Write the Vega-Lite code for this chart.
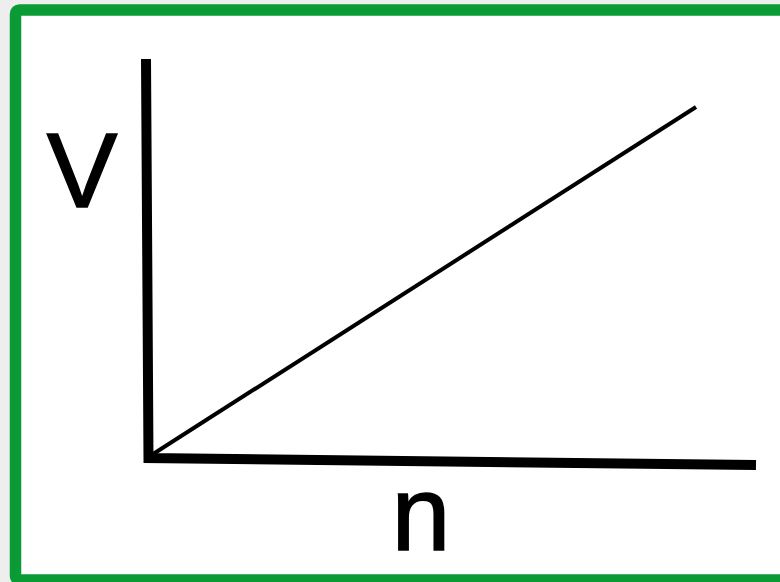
{
  "$schema": "https://vega.github.io/schema/vega-lite/v6.json",
  "width": 780,
  "height": 582,
  "autosize": {"type": "none"},
  "padding": 0,
  "background": "#eeeeee",
  "config": {"view": {"stroke": null}},
  "datasets": {
    "frame": [{"x": 15.5, "x2": 800, "y": 10, "y2": 580}],
    "axes": [
      {"x": 146, "y": 59, "o": 1},
      {"x": 148.5, "y": 458, "o": 2},
      {"x": 756, "y": 465, "o": 3}
    ],
    "curve": [
      {"x": 150, "y": 456, "o": 1},
      {"x": 696, "y": 107, "o": 2}
    ],
    "labels": [
      {"x": 82, "y": 207, "t": "V"},
      {"x": 421, "y": 550, "t": "n"}
    ]
  },
  "layer": [
    {
      "data": {"name": "frame"},
      "mark": {"type": "rect", "fill": "#ffffff", "stroke": "#0b9b35", "strokeWidth": 11.5, "cornerRadius": 4},
      "encoding": {
        "x": {"field": "x", "type": "quantitative", "scale": {"domain": [0, 780]}, "axis": null},
        "x2": {"field": "x2"},
        "y": {"field": "y", "type": "quantitative", "scale": {"domain": [0, 582], "reverse": true}, "axis": null},
        "y2": {"field": "y2"}
      }
    },
    {
      "data": {"name": "axes"},
      "mark": {"type": "line", "color": "#000000", "strokeWidth": 10, "strokeCap": "butt", "strokeJoin": "miter"},
      "encoding": {
        "x": {"field": "x", "type": "quantitative", "scale": {"domain": [0, 780]}, "axis": null},
        "y": {"field": "y", "type": "quantitative", "scale": {"domain": [0, 582], "reverse": true}, "axis": null},
        "order": {"field": "o"}
      }
    },
    {
      "data": {"name": "curve"},
      "mark": {"type": "line", "color": "#000000", "strokeWidth": 4, "strokeCap": "butt"},
      "encoding": {
        "x": {"field": "x", "type": "quantitative", "scale": {"domain": [0, 780]}, "axis": null},
        "y": {"field": "y", "type": "quantitative", "scale": {"domain": [0, 582], "reverse": true}, "axis": null},
        "order": {"field": "o"}
      }
    },
    {
      "data": {"name": "labels"},
      "mark": {"type": "text", "font": "Liberation Sans", "fontSize": 106, "color": "#000000", "stroke": "#000000", "strokeWidth": 1.5, "align": "center", "baseline": "alphabetic"},
      "encoding": {
        "x": {"field": "x", "type": "quantitative", "scale": {"domain": [0, 780]}, "axis": null},
        "y": {"field": "y", "type": "quantitative", "scale": {"domain": [0, 582], "reverse": true}, "axis": null},
        "text": {"field": "t"}
      }
    }
  ]
}
